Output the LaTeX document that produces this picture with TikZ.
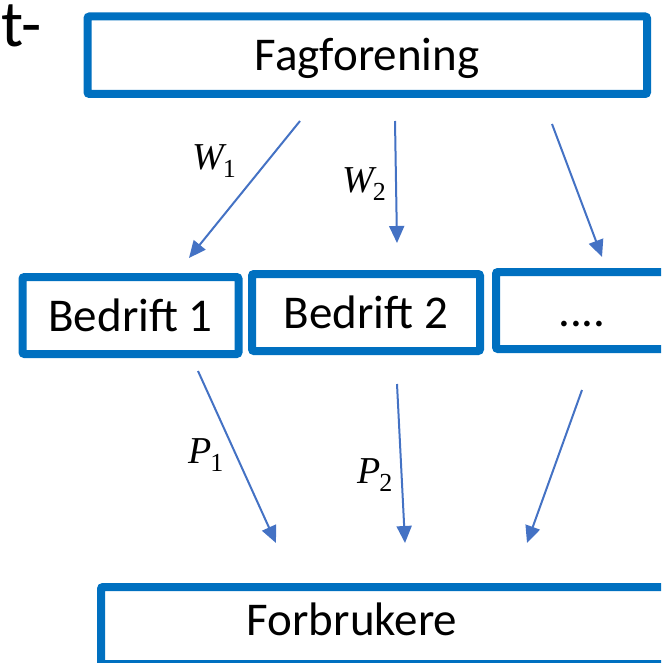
\documentclass[tikz,border=0pt]{standalone}
\usepackage{fontspec}
\setmainfont{Carlito}
\newfontfamily\lblfont{Liberation Serif}
\usetikzlibrary{arrows.meta}
\definecolor{boxblue}{HTML}{0070C0}
\definecolor{arrblue}{HTML}{4472C4}
\newcommand{\sublbl}[2]{{\itshape #1}\kern-1pt\raisebox{-8pt}{\fontsize{26}{30}\selectfont #2}}
\tikzset{
  boxnode/.style={draw=boxblue, line width=8pt, rounded corners=2pt, fill=white,
    inner sep=0pt, text height=31pt, text depth=0pt,
    font=\fontsize{47}{56}\selectfont},
  flow/.style={draw=arrblue, line width=2pt, -{Triangle[length=17pt,width=15pt]}},
  lbl/.style={anchor=base west, inner sep=0pt, font=\lblfont\fontsize{38}{44}\selectfont}
}
\begin{document}
\begin{tikzpicture}[x=1pt,y=-1pt]
\useasboundingbox (0,0) rectangle (661,663);
\clip (0,0) rectangle (661,663);
% title fragment
\node[anchor=base east, inner sep=0pt, font=\fontsize{66}{78}\selectfont] (title) at (42,47) {t-};
% boxes
\node[boxnode, minimum width=559.5pt, minimum height=77.5pt] (fag) at (367.25,55.25) {Fagforening};
\node[boxnode, minimum width=216pt, minimum height=77pt] (b1) at (130.5,315.5) {Bedrift 1};
\node[boxnode, minimum width=228pt, minimum height=77pt] (b2) at (366,312.5) {Bedrift 2};
\node[boxnode, minimum width=172pt, minimum height=77pt] (b3) at (582,310.5) {....};
\node[boxnode, minimum width=599pt, minimum height=77pt] (forb) at (400.5,625.5) {};
\node[anchor=base, inner sep=0pt, font=\fontsize{47}{56}\selectfont] (forbtxt) at (352,635) {Forbrukere};
% arrow ends
\coordinate (w1s) at (300,121); \coordinate (w1e) at (189,258);
\coordinate (w2s) at (395,121); \coordinate (w2e) at (397,243);
\coordinate (w3s) at (552,124); \coordinate (w3e) at (602,257);
\coordinate (p1s) at (198,371); \coordinate (p1e) at (276,543);
\coordinate (p2s) at (397,384); \coordinate (p2e) at (405,543);
\coordinate (p3s) at (582,390); \coordinate (p3e) at (527,543);
\draw[flow] (w1s) -- (w1e);
\draw[flow] (w2s) -- (w2e);
\draw[flow] (w3s) -- (w3e);
\draw[flow] (p1s) -- (p1e);
\draw[flow] (p2s) -- (p2e);
\draw[flow] (p3s) -- (p3e);
% labels
\node[lbl] (lw1) at (192,170) {\sublbl{W}{1}};
\node[lbl] (lw2) at (342,192) {\sublbl{W}{2}};
\node[lbl] (lp1) at (188,463) {\sublbl{P}{1}};
\node[lbl] (lp2) at (357,483) {\sublbl{P}{2}};
\end{tikzpicture}
\end{document}
